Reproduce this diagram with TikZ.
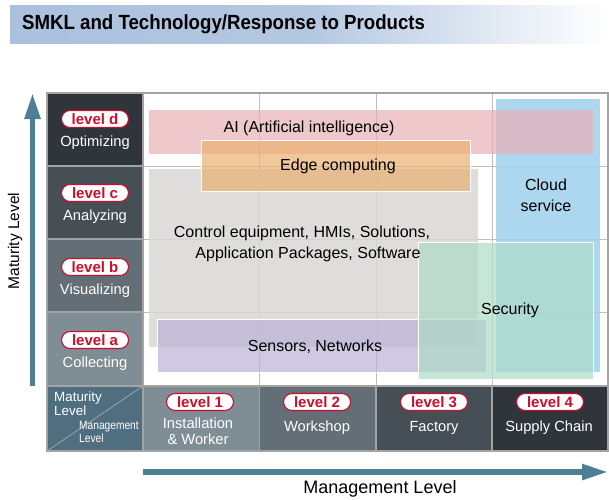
\documentclass[tikz,border=0pt]{standalone}
\usepackage{fontspec}
\setmainfont{Liberation Sans}
\usetikzlibrary{arrows.meta}
\definecolor{titleblue}{HTML}{AAC0DD}
\definecolor{arrowblue}{HTML}{4E7F97}
\definecolor{lvA}{HTML}{7F8D95}
\definecolor{lvB}{HTML}{636E76}
\definecolor{lvC}{HTML}{474F56}
\definecolor{lvD}{HTML}{2F353B}
\definecolor{corner}{HTML}{4F6E80}
\definecolor{pillred}{HTML}{C8102E}
\definecolor{gridgray}{HTML}{BDBDBD}
\definecolor{bordergray}{HTML}{A3A3A3}
\definecolor{aipink}{HTML}{E8B0B5}
\definecolor{edgeorange}{HTML}{EAB070}
\definecolor{ctrlgray}{HTML}{D8D7D6}
\definecolor{cloudblue}{HTML}{9ED0EC}
\definecolor{secgreen}{HTML}{AEDBC7}
\definecolor{senspurple}{HTML}{BAB2D4}
\begin{document}
\begin{tikzpicture}[x=1pt,y=-1pt,
  pill/.style={draw=pillred, fill=white, line width=1.1pt, rounded corners=8.5pt,
    minimum width=67pt, minimum height=17pt, inner sep=0pt, text=pillred,
    font=\fontsize{15}{16}\selectfont\bfseries},
  celltext/.style={text=white, font=\fontsize{14.7}{16}\selectfont, align=center, inner sep=0pt},
  boxtext/.style={text=black, font=\fontsize{16}{21}\selectfont, align=center, inner sep=0pt},
  techbox/.style={fill opacity=0.7, draw=white, line width=1pt},
  bigarrow/.style={draw=arrowblue, line width=5.5pt, -{Triangle[length=26pt,width=15pt]}}
]
\useasboundingbox (0,0) rectangle (609,499);
% title bar
\shade[left color=titleblue, right color=white, middle color=titleblue!88] (10,5) rectangle (609,43);
\node[anchor=west, inner sep=0pt, font=\fontsize{20.5}{22}\selectfont\bfseries] (title) at (22,24) {\scalebox{0.91}[1]{SMKL and Technology/Response to Products}};
% left column cells
\fill[lvD] (47,93) rectangle (143,166);
\fill[lvC] (47,166) rectangle (143,239);
\fill[lvB] (47,239) rectangle (143,312);
\fill[lvA] (47,312) rectangle (143,386);
\fill[corner] (47,386) rectangle (143,451);
% bottom row cells
\fill[lvA] (143,386) rectangle (259.5,451);
\fill[lvB] (259.5,386) rectangle (376,451);
\fill[lvC] (376,386) rectangle (492,451);
\fill[lvD] (492,386) rectangle (608,451);
% inner grid
\draw[gridgray, line width=0.8pt] (259.5,93) -- (259.5,386) (376,93) -- (376,386) (492,93) -- (492,386)
  (143,166) -- (608,166) (143,239) -- (608,239) (143,312) -- (608,312);
% tech boxes
\fill[ctrlgray, fill opacity=0.85] (149,169) rectangle (478,347);
\fill[cloudblue, fill opacity=0.85] (496,99) rectangle (600,372);
\fill[aipink, fill opacity=0.7] (149,110) rectangle (593,154);
\draw[techbox, fill=edgeorange] (201,140) rectangle (470,191);
\draw[techbox, fill=senspurple] (157,319) rectangle (486,372);
\draw[techbox, fill=secgreen] (418,242) rectangle (593,379);
% borders
\draw[bordergray, line width=1.2pt] (47,93) rectangle (608,451);
\draw[bordergray, line width=1.2pt] (143,93) -- (143,451) (47,386) -- (608,386)
  (47,166) -- (143,166) (47,239) -- (143,239) (47,312) -- (143,312)
  (259.5,386) -- (259.5,451) (376,386) -- (376,451) (492,386) -- (492,451);
\draw[bordergray, line width=0.8pt] (47,451) -- (143,386);
% box labels
\node[boxtext] (ai) at (309,128) {AI (Artificial intelligence)};
\node[boxtext] (edge) at (338,166) {Edge computing};
\node[boxtext] (ctrl) at (302,243.5) {Control equipment, HMIs, Solutions,\\\hspace*{12pt}Application Packages, Software};
\node[boxtext] (cloud) at (546,195.5) {Cloud\\service};
\node[boxtext] (sec) at (510,310) {Security};
\node[boxtext] (sens) at (315,347) {Sensors, Networks};
% maturity level cells
\node[pill] (ld) at (95,119) {level d};
\node[celltext] (opt) at (95,143) {Optimizing};
\node[pill] (lc) at (95,193) {level c};
\node[celltext] (ana) at (95,217) {Analyzing};
\node[pill] (lb) at (95,267) {level b};
\node[celltext] (vis) at (95,291) {Visualizing};
\node[pill] (la) at (95,340) {level a};
\node[celltext] (col) at (95,364) {Collecting};
% corner
\node[anchor=north west, text=white, inner sep=0pt, align=left, font=\fontsize{13.4}{13.5}\selectfont] (ml) at (54,392) {Maturity\\Level};
\node[anchor=north west, text=white, inner sep=0pt, align=left, font=\fontsize{12}{13.5}\selectfont] (mgl) at (79,421) {\scalebox{0.85}[1]{Management}\\\scalebox{0.85}[1]{Level}};
% management level cells
\node[pill] (l1) at (200,402) {level 1};
\node[celltext, font=\fontsize{14.7}{16}\selectfont] (inst) at (198,431) {Installation\\\& Worker};
\node[pill] (l2) at (317,402) {level 2};
\node[celltext] (work) at (317,428) {Workshop};
\node[pill] (l3) at (434,402) {level 3};
\node[celltext] (fact) at (434,428) {Factory};
\node[pill] (l4) at (550,402) {level 4};
\node[celltext] (supp) at (549,428) {Supply Chain};
% axes
\coordinate (vs) at (32.5,386);
\coordinate (ve) at (32.5,93);
\draw[bigarrow] (vs) -- (ve);
\coordinate (hs) at (143,472);
\coordinate (he) at (608,472);
\draw[bigarrow] (hs) -- (he);
\node[rotate=90, inner sep=0pt, font=\fontsize{15.5}{17}\selectfont] (mlab) at (15,241) {Maturity Level};
\node[inner sep=0pt, font=\fontsize{18}{20}\selectfont] (hlab) at (380,488.5) {Management Level};
\end{tikzpicture}
\end{document}
